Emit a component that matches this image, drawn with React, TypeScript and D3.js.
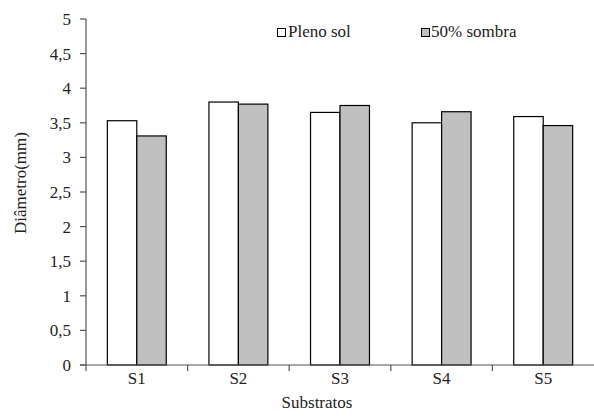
import React from "react";
import * as d3 from "d3";

const categories = ["S1", "S2", "S3", "S4", "S5"];
const plenoSol = [3.53, 3.8, 3.65, 3.5, 3.59];
const sombra50 = [3.31, 3.77, 3.75, 3.66, 3.46];
const seriesNames = ["Pleno sol", "50% sombra"];
const yTicks = [0, 0.5, 1, 1.5, 2, 2.5, 3, 3.5, 4, 4.5, 5];

const W = 594, H = 419;
const left = 86, right = 594, top = 19, bottom = 365;
const font = "'Liberation Serif', 'Times New Roman', serif";
const fs = 17;

export default function App() {
  const x = d3.scaleBand<string>().domain(categories).range([left, right]).paddingInner(0).paddingOuter(0);
  const y = d3.scaleLinear().domain([0, 5]).range([bottom, top]);
  const bw = x.bandwidth() * 0.29;
  const fmt = (v: number) => String(v).replace(".", ",");
  const axisColor = "#555";
  return (
    <svg width={W} height={H} style={{ position: "absolute", left: 0, top: 0, fontFamily: font }}>
      <rect x={0} y={0} width={W} height={H} fill="#fff" />
      {categories.map((c, i) => {
        const cx = (x(c) as number) + x.bandwidth() / 2;
        return (
          <g key={c}>
            <rect x={cx - bw} y={y(plenoSol[i])} width={bw} height={bottom - y(plenoSol[i])} fill="#fff" stroke="#000" strokeWidth={1.2} />
            <rect x={cx} y={y(sombra50[i])} width={bw} height={bottom - y(sombra50[i])} fill="#c0c0c0" stroke="#000" strokeWidth={1.2} />
          </g>
        );
      })}
      <line x1={left} x2={left} y1={top} y2={bottom + 6} stroke={axisColor} strokeWidth={1.2} />
      {yTicks.map((t) => (
        <g key={t}>
          <line x1={left - 6} x2={left} y1={y(t)} y2={y(t)} stroke={axisColor} strokeWidth={1.2} />
          <text x={71} y={y(t)} dy="0.35em" textAnchor="end" fontSize={fs} fill="#222">{fmt(t)}</text>
        </g>
      ))}
      <line x1={left - 6} x2={right} y1={bottom} y2={bottom} stroke={axisColor} strokeWidth={1.2} />
      {categories.map((c, i) => (
        <g key={c}>
          {i > 0 && <line x1={x(c) as number} x2={x(c) as number} y1={bottom} y2={bottom + 6} stroke={axisColor} strokeWidth={1.2} />}
          <text x={(x(c) as number) + x.bandwidth() / 2} y={384} textAnchor="middle" fontSize={fs} fill="#222">{c}</text>
        </g>
      ))}
      <text x={(left + right) / 2 - 23} y={408} textAnchor="middle" fontSize={fs} fill="#222">Substratos</text>
      <text transform={`translate(26,183) rotate(-90)`} textAnchor="middle" fontSize={fs} fill="#222">Diâmetro(mm)</text>
      <rect x={277.5} y={28.5} width={8} height={8} fill="#fff" stroke="#000" strokeWidth={1} />
      <text x={288} y={37} fontSize={fs} fill="#222">{seriesNames[0]}</text>
      <rect x={421.5} y={28.5} width={8} height={8} fill="#c0c0c0" stroke="#000" strokeWidth={1} />
      <text x={431} y={37} fontSize={fs} fill="#222">{seriesNames[1]}</text>
    </svg>
  );
}
